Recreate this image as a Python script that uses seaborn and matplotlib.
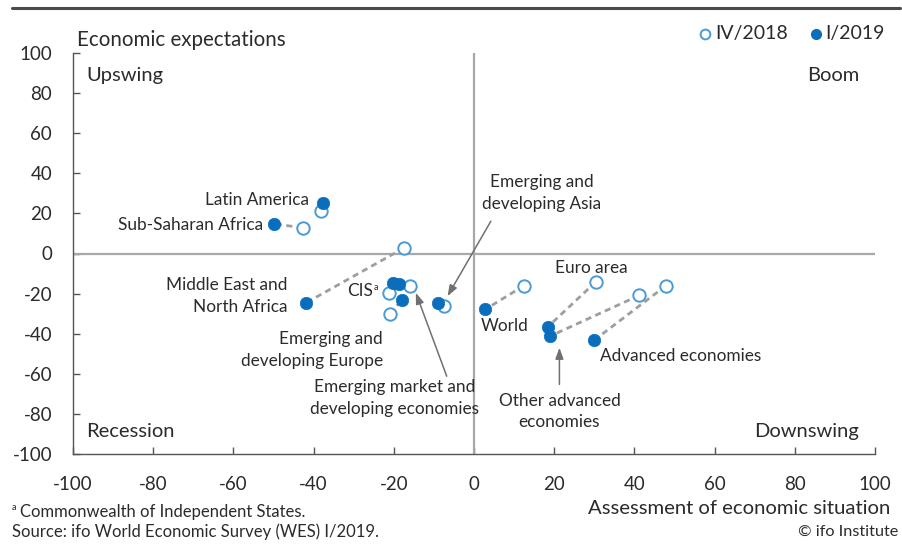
import matplotlib
matplotlib.use("Agg")
import matplotlib.pyplot as plt
import seaborn as sns
import pandas as pd
from matplotlib.lines import Line2D

# ---- data ----
regions = ["Latin America", "Sub-Saharan Africa", "Middle East and North Africa", "CIS",
           "Emerging and developing Europe", "Emerging market and developing economies",
           "Emerging and developing Asia", "World", "Euro area",
           "Other advanced economies", "Advanced economies"]
situation_iv2018 = [-38.2, -42.7, -17.4, -21.2, -21.0, -16.0, -7.4, 12.5, 30.4, 41.2, 47.9]
expectations_iv2018 = [21.1, 12.8, 2.8, -19.6, -30.0, -16.0, -26.3, -16.0, -14.1, -20.9, -16.0]
situation_i2019 = [-37.7, -49.8, -41.9, -20.1, -18.0, -18.6, -8.9, 2.8, 18.4, 19.0, 30.0]
expectations_i2019 = [25.3, 14.8, -24.6, -14.6, -23.3, -15.1, -24.6, -27.9, -36.6, -41.2, -43.2]
ticks = [-100, -80, -60, -40, -20, 0, 20, 40, 60, 80, 100]
series_labels = ["IV/2018", "I/2019"]

BLUE = "#0A6EBD"
LIGHT = "#4A9AD6"
GRAY = "#9E9E9E"
TXT = "#2B2B2B"

sns.set_theme(style="white")
plt.rcParams['font.family'] = ['Lato', 'DejaVu Sans']
plt.rcParams['axes.unicode_minus'] = False

df = pd.DataFrame({
    "region": regions * 2,
    "situation": situation_iv2018 + situation_i2019,
    "expectations": expectations_iv2018 + expectations_i2019,
    "survey": [series_labels[0]] * len(regions) + [series_labels[1]] * len(regions),
})

fig = plt.figure(figsize=(9.03, 5.44), dpi=100)
ax = fig.add_axes([73 / 903, 1 - 454 / 544, (875 - 73) / 903, (454 - 53) / 544])

# zero lines
ax.axhline(0, color="#A8A8A8", lw=1.6, zorder=1)
ax.axvline(0, color="#A8A8A8", lw=1.6, zorder=1)

# connecting dashed lines
for x0, y0, x1, y1 in zip(situation_iv2018, expectations_iv2018, situation_i2019, expectations_i2019):
    ax.plot([x0, x1], [y0, y1], ls=(0, (2.2, 1.6)), color=GRAY, lw=2.0, zorder=2)

sns.scatterplot(data=df[df.survey == series_labels[0]], x="situation", y="expectations",
                ax=ax, s=80, facecolor="white", edgecolor=LIGHT, linewidth=1.4,
                zorder=3, legend=False)
sns.scatterplot(data=df[df.survey == series_labels[1]], x="situation", y="expectations",
                ax=ax, s=80, color=BLUE, edgecolor=BLUE, linewidth=0.5,
                zorder=4, legend=False)

ax.set_xlim(-100, 100)
ax.set_ylim(-100, 100)
ax.set_xticks(ticks)
ax.set_yticks(ticks)
ax.set_xlabel("")
ax.set_ylabel("")
for s in ["top", "right"]:
    ax.spines[s].set_visible(False)
for s in ["left", "bottom"]:
    ax.spines[s].set_color("#555555")
    ax.spines[s].set_linewidth(1.0)
ax.tick_params(axis="both", direction="in", length=5, width=1, color="#555555",
               labelsize=13.5, labelcolor=TXT)
ax.tick_params(axis="x", pad=16, bottom=True)
ax.tick_params(axis="y", pad=15, left=True)
ax.patch.set_alpha(0)

fs = 12.4
ls2 = 1.45
qfs = 14.5
# quadrant labels
ax.text(-96.7, 89, "Upswing", fontsize=qfs, color=TXT, ha="left", va="center")
ax.text(96, 89, "Boom", fontsize=qfs, color=TXT, ha="right", va="center")
ax.text(-96.7, -89, "Recession", fontsize=qfs, color=TXT, ha="left", va="center")
ax.text(96, -89, "Downswing", fontsize=qfs, color=TXT, ha="right", va="center")

# region labels
ax.text(-41.2, 26.9, "Latin America", fontsize=fs, color=TXT, ha="right", va="center")
ax.text(-52.5, 14.0, "Sub-Saharan Africa", fontsize=fs, color=TXT, ha="right", va="center")
ax.text(-46.6, -21, "Middle East and\nNorth Africa", fontsize=fs, color=TXT, ha="right",
        va="center", linespacing=ls2)
ax.text(-25.2, -18.8, "CIS", fontsize=fs, color=TXT, ha="right", va="center")
ax.text(-25.0, -17.0, "a", fontsize=6.5, color=TXT, ha="left", va="center")
ax.text(-22.7, -48.1, "Emerging and\ndeveloping Europe", fontsize=fs, color=TXT,
        ha="right", va="center", linespacing=ls2)
ax.text(-19.8, -72.0, "Emerging market and\ndeveloping economies", fontsize=fs, color=TXT,
        ha="center", va="center", linespacing=ls2)
ax.text(16.9, 30.2, "Emerging and\ndeveloping Asia", fontsize=fs, color=TXT,
        ha="center", va="center", linespacing=ls2)
ax.text(29.3, -7, "Euro area", fontsize=fs, color=TXT, ha="center", va="center")
ax.text(1.6, -36.4, "World", fontsize=fs, color=TXT, ha="left", va="center")
ax.text(31.3, -50.9, "Advanced economies", fontsize=fs, color=TXT, ha="left", va="center")
ax.text(21.3, -78.8, "Other advanced\neconomies", fontsize=fs, color=TXT,
        ha="center", va="center", linespacing=ls2)

# arrows
aprops = dict(arrowstyle="-|>,head_length=0.55,head_width=0.2", color="#707070", lw=1.1,
              shrinkA=0, shrinkB=0)
ax.annotate("", xy=(-6.6, -21.3), xytext=(4.2, 16.1), arrowprops=aprops)
ax.annotate("", xy=(-14.5, -19.6), xytext=(-6.8, -61.2), arrowprops=aprops)
ax.annotate("", xy=(21.3, -47.0), xytext=(21.3, -65.3), arrowprops=aprops)

# axis titles
fig.text(77 / 903, 1 - 40 / 544, "Economic expectations", fontsize=14.8, color=TXT,
         ha="left", va="center")
fig.text(890 / 903, 1 - 508 / 544, "Assessment of economic situation", fontsize=14.6,
         color=TXT, ha="right", va="center")

# legend
fig.add_artist(Line2D([705 / 903], [1 - 34 / 544], marker="o", markersize=7.0,
                      markerfacecolor="white", markeredgecolor=LIGHT, markeredgewidth=1.4,
                      ls="none", transform=fig.transFigure))
fig.text(715 / 903, 1 - 34 / 544, series_labels[0], fontsize=14, color=TXT, ha="left", va="center")
fig.add_artist(Line2D([816 / 903], [1 - 34 / 544], marker="o", markersize=7.0,
                      markerfacecolor=BLUE, markeredgecolor=BLUE,
                      ls="none", transform=fig.transFigure))
fig.text(825 / 903, 1 - 34 / 544, series_labels[1], fontsize=14, color=TXT, ha="left", va="center")

# top rule
fig.add_artist(Line2D([12 / 903, 900 / 903], [1 - 8 / 544, 1 - 8 / 544], color="#4A4A4A",
                      lw=2.2, transform=fig.transFigure))

# footnotes
fig.text(12 / 903, 1 - 508 / 544, "a", fontsize=6.5, color=TXT, ha="left", va="center")
fig.text(20 / 903, 1 - 512 / 544, "Commonwealth of Independent States.", fontsize=12,
         color=TXT, ha="left", va="center")
fig.text(12 / 903, 1 - 532 / 544, "Source: ifo World Economic Survey (WES) I/2019.",
         fontsize=12, color=TXT, ha="left", va="center")
fig.text(898 / 903, 1 - 532 / 544, "© ifo Institute", fontsize=11.7, color=TXT,
         ha="right", va="center")

fig.savefig("out.png", dpi=100)
